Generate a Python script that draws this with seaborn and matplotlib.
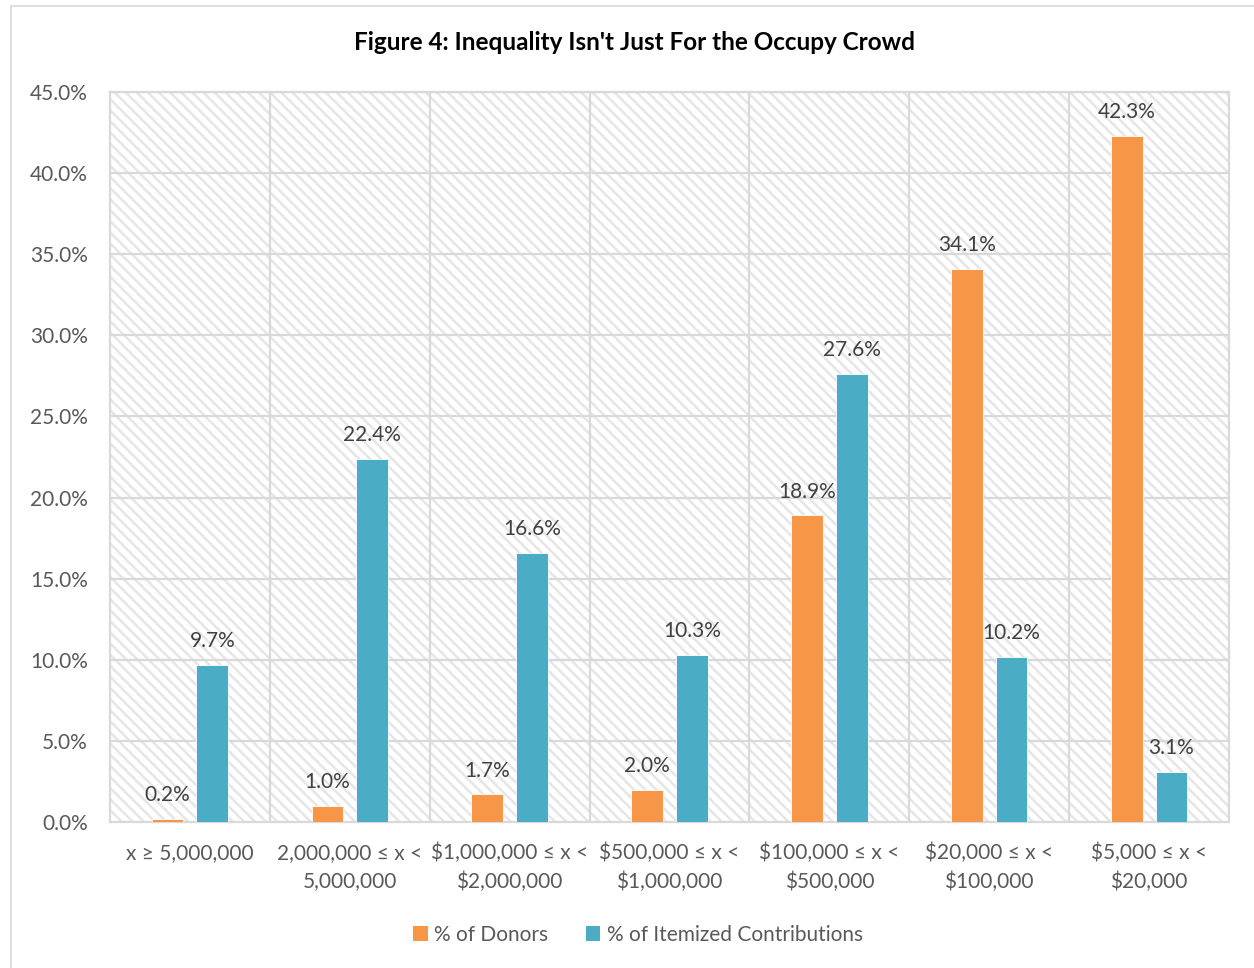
import matplotlib
matplotlib.use("Agg")
import matplotlib.pyplot as plt
from matplotlib.patches import Rectangle
from matplotlib.lines import Line2D
from matplotlib.ticker import FuncFormatter, MultipleLocator
import seaborn as sns
import pandas as pd

# Donation-size brackets and the two shares for each bracket (percent)
categories = [
    "x ≥ 5,000,000",
    "2,000,000 ≤ x <\n5,000,000",
    "$1,000,000 ≤ x <\n$2,000,000",
    "$500,000 ≤ x <\n$1,000,000",
    "$100,000 ≤ x <\n$500,000",
    "$20,000 ≤ x <\n$100,000",
    "$5,000 ≤ x <\n$20,000",
]
donors = [0.2, 1.0, 1.7, 2.0, 18.9, 34.1, 42.3]
contributions = [9.7, 22.4, 16.6, 10.3, 27.6, 10.2, 3.1]
series_names = ["% of Donors", "% of Itemized Contributions"]
colors = {"% of Donors": "#F79646", "% of Itemized Contributions": "#4BACC6"}

df = pd.DataFrame({
    "bracket": categories * 2,
    "series": [series_names[0]] * len(categories) + [series_names[1]] * len(categories),
    "value": donors + contributions,
})

sns.set_theme(style="white")
plt.rcParams["font.family"] = ["Lato", "DejaVu Sans"]
plt.rcParams["hatch.linewidth"] = 1.8

text_gray = "#595959"
grid_gray = "#D9D9D9"

fig = plt.figure(figsize=(12.54, 9.68), dpi=100)
ax = fig.add_axes([110 / 1254, 1 - 822 / 968, 1119 / 1254, 730 / 968])

# hatched plot-area background
ax.add_patch(Rectangle((0, 0), 1, 1, transform=ax.transAxes, facecolor="white",
                       edgecolor="#E6E6E6", hatch="\\\\\\", linewidth=0, zorder=0))

sns.barplot(data=df, x="bracket", y="value", hue="series", hue_order=series_names,
            palette=colors, width=0.56, gap=0.29, saturation=1, ax=ax,
            edgecolor="white", linewidth=0.6, zorder=3)

ax.set_ylim(0, 45)
ax.set_xlim(-0.5, len(categories) - 0.5)
ax.yaxis.set_major_locator(MultipleLocator(5))
ax.yaxis.set_major_formatter(FuncFormatter(lambda v, _: f"{v:.1f}%"))

# grid: horizontal at each tick, vertical at bracket boundaries
for yv in range(5, 50, 5):
    ax.axhline(yv, color=grid_gray, linewidth=1.6, zorder=1)
for xb in [i + 0.5 for i in range(len(categories) - 1)]:
    ax.axvline(xb, color=grid_gray, linewidth=1.6, zorder=1)
for side in ["left", "right", "top", "bottom"]:
    ax.spines[side].set_visible(True)
    ax.spines[side].set_color(grid_gray)
    ax.spines[side].set_linewidth(1.6)

ax.set_xticks(range(len(categories)))
ax.set_xticklabels([c.replace("$", r"\$") for c in categories],
                   fontsize=15, color=text_gray, linespacing=1.5)
ax.tick_params(axis="x", length=0, pad=15)
ax.tick_params(axis="y", length=0, pad=16, labelsize=15, labelcolor=text_gray)
ax.set_xlabel("")
ax.set_ylabel("")

# value labels above each bar
for container, vals in zip(ax.containers, [donors, contributions]):
    for bar, v in zip(container, vals):
        ax.annotate(f"{v:.1f}%", (bar.get_x() + bar.get_width() / 2, bar.get_height()),
                    xytext=(0, 10), textcoords="offset points", ha="center", va="bottom",
                    fontsize=15, color="#404040", zorder=5)

fig.text(634 / 1254, 1 - 43 / 968, "Figure 4: Inequality Isn't Just For the Occupy Crowd",
         fontsize=17.5, fontweight="bold", color="black", ha="center", va="center")

ax.legend_.remove()
handles = [Rectangle((0, 0), 1, 1, facecolor=colors[n], edgecolor="none") for n in series_names]
fig.legend(handles, series_names, loc="center", bbox_to_anchor=(638 / 1254, 1 - 935 / 968),
           ncol=2, frameon=False, fontsize=15, handlelength=0.7, handleheight=0.7,
           handletextpad=0.3, columnspacing=1.8, labelcolor=text_gray)

# chart outer border (left and top edges)
fig.add_artist(Line2D([11 / 1254, 11 / 1254], [0, 1 - 6 / 968], color=grid_gray,
                      linewidth=1.2, transform=fig.transFigure))
fig.add_artist(Line2D([11 / 1254, 1], [1 - 6 / 968, 1 - 6 / 968], color=grid_gray,
                      linewidth=1.2, transform=fig.transFigure))

fig.savefig("out.png", dpi=100, facecolor="white")
